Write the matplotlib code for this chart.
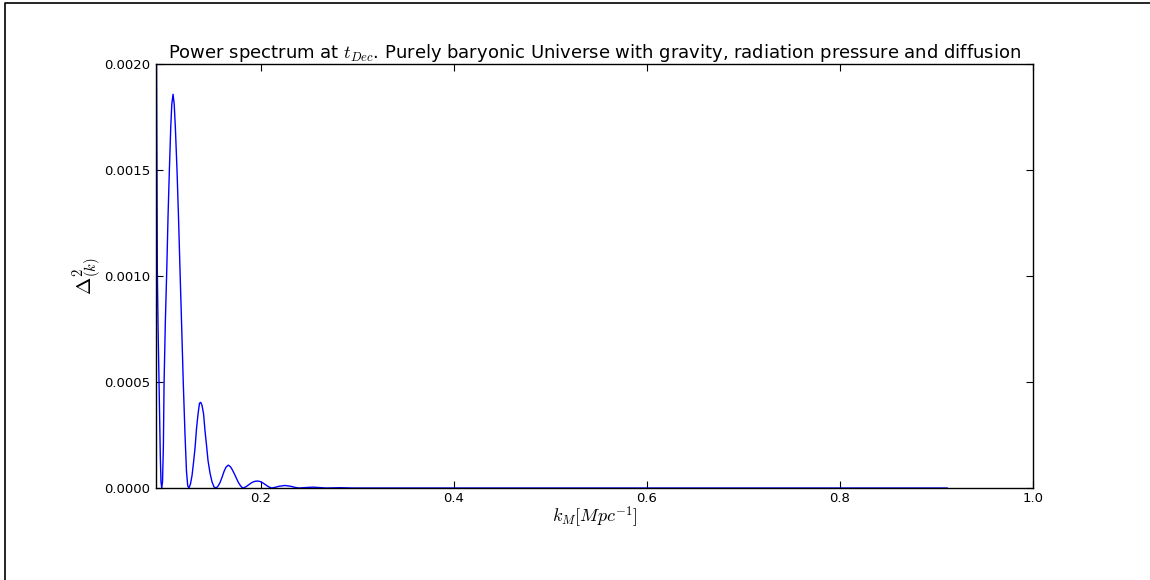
import matplotlib
matplotlib.use("Agg")
import matplotlib.pyplot as plt
from matplotlib.lines import Line2D
from matplotlib.ticker import FormatStrFormatter

plt.rcParams['mathtext.fontset'] = 'cm'
plt.rcParams['font.family'] = 'DejaVu Sans'

# wavenumber k [Mpc^-1] and power Delta^2(k) at decoupling
k = [0.0917, 0.0922, 0.0930, 0.0938, 0.0948, 0.0961, 0.0968, 0.0976,
     0.0984, 0.0993, 0.1000, 0.1013, 0.1028, 0.1041, 0.1055, 0.1069, 0.1080, 0.1093,
     0.1105, 0.1117, 0.1134, 0.1150, 0.1165, 0.1183, 0.1199, 0.1217, 0.1232, 0.1245, 0.1258,
     0.1274, 0.1290, 0.1305, 0.1321, 0.1336, 0.1352, 0.1367, 0.1380,
     0.1393, 0.1409, 0.1424, 0.1440, 0.1455, 0.1476, 0.1496, 0.1517, 0.1538,
     0.1558, 0.1579, 0.1600, 0.1621, 0.1641, 0.1665,
     0.1688, 0.1708, 0.1729, 0.1750, 0.1770, 0.1791, 0.1807, 0.1820,
     0.1848, 0.1879, 0.1910, 0.1936, 0.1965, 0.1993, 0.2024, 0.2055, 0.2086, 0.2114,
     0.2148, 0.2189, 0.2252, 0.2314, 0.2355, 0.2397,
     0.2459, 0.2541, 0.2614, 0.2676,
     0.2759, 0.2821, 0.2883, 0.2955,
     0.3100, 0.5000, 0.7000, 0.9110]
delta2 = [0.00215, 0.00200, 0.00103, 0.00075, 0.000495, 0.00015, 0.00003, 0.0,
          0.00003, 0.00020, 0.000495, 0.00078, 0.00103, 0.00128, 0.00150, 0.00170, 0.00181, 0.001857,
          0.00181, 0.00170, 0.00150, 0.00127, 0.00103, 0.00075, 0.000495, 0.00025, 0.00008, 0.00001, 0.0,
          0.00002, 0.00006, 0.00012, 0.00019, 0.00028, 0.00035, 0.00040, 0.000404,
          0.00039, 0.00035, 0.00027, 0.00020, 0.00013, 0.00007, 0.00003, 0.000005, 0.0,
          0.000008, 0.000025, 0.00005, 0.000078, 0.000098, 0.000108,
          0.000100, 0.000085, 0.000066, 0.000045, 0.000026, 0.000011, 0.000003, 0.0,
          0.000006, 0.000016, 0.000026, 0.000031, 0.000033, 0.000031, 0.000024, 0.000014, 0.000005, 0.0,
          0.000003, 0.000008, 0.000012, 0.000008, 0.000003, 0.0,
          0.000002, 0.000004, 0.000002, 0.0,
          0.0000008, 0.0000015, 0.0000008, 0.0,
          0.0, 0.0, 0.0, 0.0]

x_ticks = [0.2, 0.4, 0.6, 0.8, 1.0]
y_ticks = [0.0000, 0.0005, 0.0010, 0.0015, 0.0020]

fig = plt.figure(figsize=(11.5, 5.8), dpi=100)
ax = fig.add_axes([0.1357, 0.1586, 0.7626, 0.7311])

ax.plot(k, delta2, color='b', lw=1.0)

ax.set_xlim(0.0917, 1.0)
ax.set_ylim(0.0, 0.002)
ax.set_xticks(x_ticks)
ax.set_yticks(y_ticks)
ax.xaxis.set_major_formatter(FormatStrFormatter('%.1f'))
ax.yaxis.set_major_formatter(FormatStrFormatter('%.4f'))
ax.tick_params(direction='in', length=5, width=0.8, top=True, right=True, labelsize=9.5)
ax.tick_params(axis='x', pad=3)
ax.tick_params(axis='y', pad=4)
for s in ax.spines.values():
    s.set_linewidth(1.0)

ax.set_title(r'Power spectrum at $t_{Dec}$. Purely baryonic Universe with gravity, radiation pressure and diffusion',
             fontsize=13, pad=4)
ax.set_xlabel(r'$k_M[Mpc^{-1}]$', fontsize=13, labelpad=0)
ax.set_ylabel(r'$\Delta^2_{(k)}$', fontsize=15, labelpad=0)

# outer frame
fig.add_artist(Line2D([0.0043, 0.0043, 1.0], [0.0, 0.9948, 0.9948],
                      transform=fig.transFigure, color='k', lw=1.2))

fig.savefig('out.png', dpi=100, facecolor='white')
